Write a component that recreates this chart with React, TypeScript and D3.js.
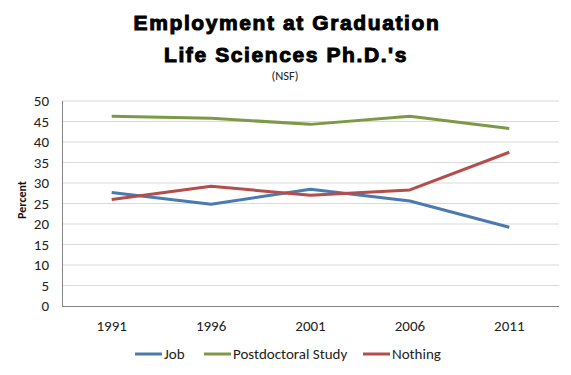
import React, { useEffect, useRef } from "react";
import * as d3 from "d3";

const years = ["1991", "1996", "2001", "2006", "2011"];
const job = [27.7, 24.8, 28.5, 25.6, 19.2];
const postdoc = [46.3, 45.8, 44.3, 46.3, 43.3];
const nothing = [26.0, 29.2, 27.0, 28.3, 37.5];
const yTicks = [0, 5, 10, 15, 20, 25, 30, 35, 40, 45, 50];

const seriesNames = ["Job", "Postdoctoral Study", "Nothing"];
const seriesColors = ["#4a7ab0", "#7c9a45", "#b54d4b"];

const App = () => {
  const svgRef = useRef<SVGSVGElement>(null);

  useEffect(() => {
    const svg = d3.select(svgRef.current);
    svg.selectAll("*").remove();

    const left = 62, right = 559, top = 101, bottom = 306;
    const font = "Calibri, Carlito, Lato, 'Liberation Sans', Arial, sans-serif";

    const x = d3.scaleBand().domain(years).range([left, right]);
    const y = d3.scaleLinear().domain([0, 50]).range([bottom, top]);

    // title
    const title = svg.append("g")
      .attr("font-family", "'Liberation Sans', Arial, sans-serif")
      .attr("font-weight", "bold")
      .attr("text-anchor", "middle")
      .attr("fill", "#000");
    title.append("text").attr("x", 287).attr("y", 30)
      .attr("font-size", 21).attr("letter-spacing", 1.6)
      .attr("stroke", "#000").attr("stroke-width", 1)
      .text("Employment at Graduation");
    title.append("text").attr("x", 286).attr("y", 62)
      .attr("font-size", 21).attr("letter-spacing", 1.6)
      .attr("stroke", "#000").attr("stroke-width", 1)
      .text("Life Sciences Ph.D.'s");
    svg.append("text").attr("x", 285).attr("y", 80)
      .attr("text-anchor", "middle").attr("font-family", font)
      .attr("font-size", 12.5).attr("fill", "#222").text("(NSF)");

    // gridlines
    svg.append("g").selectAll("line").data(yTicks.filter(d => d > 0)).enter()
      .append("line")
      .attr("x1", left).attr("x2", right)
      .attr("y1", d => y(d)).attr("y2", d => y(d))
      .attr("stroke", "#d9d9d9").attr("stroke-width", 1);

    // axes
    svg.append("line").attr("x1", left + 0.5).attr("x2", left + 0.5)
      .attr("y1", top).attr("y2", bottom).attr("stroke", "#868686");
    svg.append("line").attr("x1", left).attr("x2", right)
      .attr("y1", bottom + 0.5).attr("y2", bottom + 0.5).attr("stroke", "#868686");

    svg.append("g").selectAll("text").data(yTicks).enter()
      .append("text")
      .attr("x", 49).attr("y", d => y(d) + 5)
      .attr("text-anchor", "end")
      .attr("font-family", font).attr("font-size", 15).attr("fill", "#222")
      .text(d => d);

    svg.append("g").selectAll("text").data(years).enter()
      .append("text")
      .attr("x", d => x(d)! + x.bandwidth() / 2).attr("y", 331)
      .attr("text-anchor", "middle")
      .attr("font-family", font).attr("font-size", 15).attr("fill", "#222")
      .text(d => d);

    svg.append("text")
      .attr("transform", "translate(26,200) rotate(-90)")
      .attr("text-anchor", "middle")
      .attr("font-family", font).attr("font-size", 12).attr("font-weight", "bold")
      .attr("fill", "#111").text("Percent");

    // lines
    const line = d3.line<number>()
      .x((d, i) => x(years[i])! + x.bandwidth() / 2)
      .y(d => y(d));
    [job, postdoc, nothing].forEach((vals, i) => {
      svg.append("path")
        .attr("d", line(vals))
        .attr("fill", "none")
        .attr("stroke", seriesColors[i])
        .attr("stroke-width", 3)
        .attr("stroke-linejoin", "round");
    });

    // legend
    const legendX = [135, 204, 363];
    seriesNames.forEach((name, i) => {
      const g = svg.append("g");
      g.append("line")
        .attr("x1", legendX[i]).attr("x2", legendX[i] + 27)
        .attr("y1", 354).attr("y2", 354)
        .attr("stroke", seriesColors[i]).attr("stroke-width", 3);
      g.append("text")
        .attr("x", legendX[i] + 29).attr("y", 359)
        .attr("font-family", font).attr("font-size", 15).attr("fill", "#222")
        .text(name);
    });
  }, []);

  return (
    <svg ref={svgRef} width={571} height={375}
      style={{ position: "absolute", left: 0, top: 0, background: "#fff" }} />
  );
};

export default App;
